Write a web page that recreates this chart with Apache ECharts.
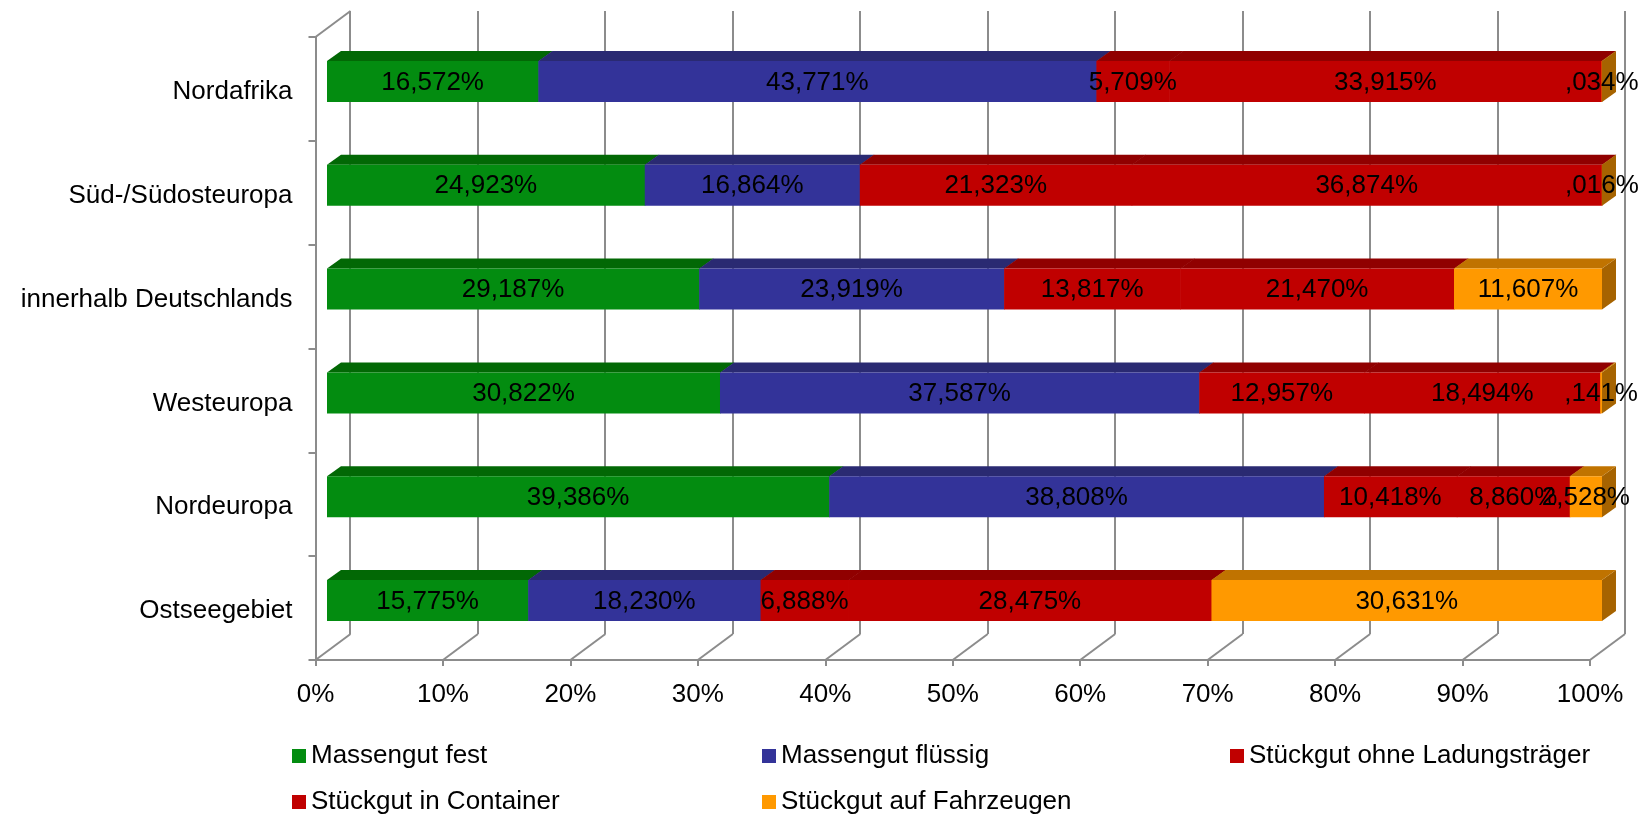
<!DOCTYPE html>
<html>
<head>
<meta charset="utf-8">
<script src="https://cdn.jsdelivr.net/npm/echarts@6/dist/echarts.min.js"></script>
<style>
html,body{margin:0;padding:0;background:#fff;}
#chart{width:1645px;height:815px;}
</style>
</head>
<body>
<div id="chart"></div>
<script>
// ---- data ----
const categories = ['Nordafrika', 'Süd-/Südosteuropa', 'innerhalb Deutschlands', 'Westeuropa', 'Nordeuropa', 'Ostseegebiet'];
const seriesNames = ['Massengut fest', 'Massengut flüssig', 'Stückgut ohne Ladungsträger', 'Stückgut in Container', 'Stückgut auf Fahrzeugen'];
const massengutFest      = [16.572, 24.923, 29.187, 30.822, 39.386, 15.775];
const massengutFluessig  = [43.771, 16.864, 23.919, 37.587, 38.808, 18.230];
const stueckgutOhne      = [5.709, 21.323, 13.817, 12.957, 10.418, 6.888];
const stueckgutContainer = [33.915, 36.874, 21.470, 18.494, 8.860, 28.475];
const stueckgutFahrzeuge = [0.034, 0.016, 11.607, 0.141, 2.528, 30.631];
const xTicks = [0, 10, 20, 30, 40, 50, 60, 70, 80, 90, 100];

// ---- styles ----
const FONT = "'Liberation Sans', Arial, sans-serif";
const GRAY = '#8c8c8c';
const faceColors = [
  { front: '#038c10', top: '#026805', side: '#015a03' },
  { front: '#333399', top: '#2a2a72', side: '#222260' },
  { front: '#c00000', top: '#900000', side: '#7a0000' },
  { front: '#c00000', top: '#900000', side: '#7a0000' },
  { front: '#ff9900', top: '#c07300', side: '#a66300' }
];
const allValues = [massengutFest, massengutFluessig, stueckgutOhne, stueckgutContainer, stueckgutFahrzeuge];
const DX = 14, DY = 10, BAR_H = 41;  // bar depth
const WALL_DX = 35, WALL_DY = 26;    // plot depth

function fmt(v) {
  let s = v.toFixed(3).replace('.', ',');
  if (v < 1) s = s.replace(/^0/, '');
  return s + '%';
}

function barSeries(si) {
  const data = categories.map((c, ci) => {
    let start = 0;
    for (let k = 0; k < si; k++) start += allValues[k][ci];
    return [start, start + allValues[si][ci], ci, allValues[si][ci]];
  });
  const col = faceColors[si];
  const isLast = si === allValues.length - 1;
  return {
    type: 'custom',
    name: seriesNames[si],
    xAxisIndex: 0, yAxisIndex: 0,
    itemStyle: { color: col.front },
    encode: { x: [0, 1], y: 2 },
    data: data,
    z: 3,
    renderItem: function (params, api) {
      const s = api.value(0), e = api.value(1), ci = api.value(2), v = api.value(3);
      const p0 = api.coord([s, ci]);
      const p1 = api.coord([e, ci]);
      const x0 = p0[0], x1 = p1[0];
      const ext = isLast ? 0 : 0.6; // overlap to hide seams
      const yT = p0[1] - BAR_H / 2, yB = p0[1] + BAR_H / 2;
      const children = [];
      if (isLast) {
        children.push({ type: 'polygon', shape: { points: [[x1, yT], [x1 + DX, yT - DY], [x1 + DX, yB - DY], [x1, yB]] }, style: { fill: col.side } });
      }
      children.push(
        { type: 'polygon', shape: { points: [[x0, yT], [x1 + ext, yT], [x1 + ext + DX, yT - DY], [x0 + DX, yT - DY]] }, style: { fill: col.top } },
        { type: 'rect', shape: { x: x0, y: yT, width: x1 - x0 + ext, height: BAR_H }, style: { fill: col.front } },
        { type: 'text', z2: 100, style: { text: fmt(v), x: (x0 + x1) / 2, y: p0[1] + 1, align: 'center', verticalAlign: 'middle', fill: '#000', font: '26px ' + FONT } }
      );
      return { type: 'group', children: children };
    }
  };
}

const series = [0, 1, 2, 3, 4].map(barSeries);

// floor diagonals + left-top diagonal (on the front grid)
series.push({
  type: 'custom',
  xAxisIndex: 1, yAxisIndex: 1,
  data: xTicks.map(t => [t, 0]),
  encode: { x: 0, y: 1 },
  silent: true,
  z: 1,
  renderItem: function (params, api) {
    const cs = params.coordSys;
    const x = api.coord([api.value(0), 0])[0];
    const yb = cs.y + cs.height;
    const kids = [{ type: 'line', shape: { x1: x, y1: yb, x2: x + WALL_DX, y2: yb - WALL_DY }, style: { stroke: GRAY, lineWidth: 2 } }];
    if (params.dataIndex === 0) {
      kids.push({ type: 'line', shape: { x1: cs.x, y1: cs.y, x2: cs.x + WALL_DX, y2: cs.y - WALL_DY }, style: { stroke: GRAY, lineWidth: 2 } });
    }
    return { type: 'group', children: kids };
  }
});

const legendPos = [[292, 743], [762, 743], [1230, 743], [292, 789], [762, 789]];
const legends = seriesNames.map((n, i) => ({
  data: [n],
  left: legendPos[i][0], top: legendPos[i][1],
  padding: 0,
  itemWidth: 14, itemHeight: 14, icon: 'rect',
  selectedMode: false,
  textStyle: { fontSize: 26, fontFamily: FONT, color: '#000' }
}));

const option = {
  animation: false,
  backgroundColor: '#ffffff',
  legend: legends,
  grid: [
    { left: 327, right: 43, top: 29.5, bottom: 162.5 },   // bar front plane
    { left: 315.5, right: 55, top: 37, bottom: 155 },     // front axes
    { left: 350, right: 20, top: 11, bottom: 181 }        // back wall
  ],
  xAxis: [
    { gridIndex: 0, type: 'value', min: 0, max: 100, show: false },
    { gridIndex: 1, type: 'value', min: 0, max: 100, interval: 10,
      axisLine: { show: true, lineStyle: { color: GRAY, width: 2 } },
      axisTick: { show: true, length: 6, lineStyle: { color: GRAY, width: 2 } },
      splitLine: { show: false },
      axisLabel: { formatter: '{value}%', margin: 22, fontSize: 26, fontFamily: FONT, color: '#000' } },
    { gridIndex: 2, type: 'value', min: 0, max: 100, interval: 10,
      axisLine: { show: false }, axisTick: { show: false }, axisLabel: { show: false },
      splitLine: { show: true, lineStyle: { color: GRAY, width: 2 } } }
  ],
  yAxis: [
    { gridIndex: 0, type: 'category', data: categories, inverse: true, show: false },
    { gridIndex: 1, type: 'category', data: categories, inverse: true,
      axisLine: { show: true, lineStyle: { color: GRAY, width: 2 } },
      axisTick: { show: true, length: 7, lineStyle: { color: GRAY, width: 2 } },
      axisLabel: { margin: 23, color: '#000',
        formatter: function (v) { return '{c|' + v + '}'; },
        rich: { c: { fontSize: 26, fontFamily: FONT, color: '#000', padding: [6, 0, 0, 0] } } } },
    { gridIndex: 2, type: 'category', data: categories, inverse: true, show: false }
  ],
  series: series
};

const chart = echarts.init(document.getElementById('chart'), null, { renderer: 'canvas' });
chart.setOption(option);
</script>
</body>
</html>
